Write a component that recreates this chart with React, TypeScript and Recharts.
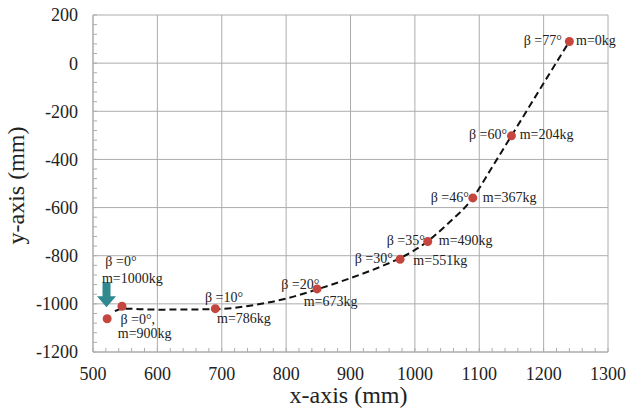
import React from "react"
import {
  CartesianGrid,
  ComposedChart,
  Label,
  Line,
  Scatter,
  XAxis,
  YAxis,
} from "recharts"

// axis ticks
const xMajor = [500, 600, 700, 800, 900, 1000, 1100, 1200, 1300]
const yMajor = [-1200, -1000, -800, -600, -400, -200, 0, 200]
const xMinor = [
  500, 520, 540, 560, 580, 600, 620, 640, 660, 680, 700, 720, 740, 760, 780,
  800, 820, 840, 860, 880, 900, 920, 940, 960, 980, 1000, 1020, 1040, 1060,
  1080, 1100, 1120, 1140, 1160, 1180, 1200, 1220, 1240, 1260, 1280, 1300,
]
const yMinor = [
  -1200, -1160, -1120, -1080, -1040, -1000, -960, -920, -880, -840, -800,
  -760, -720, -680, -640, -600, -560, -520, -480, -440, -400, -360, -320,
  -280, -240, -200, -160, -120, -80, -40, 0, 40, 80, 120, 160, 200,
]

// measured points
const pointX = [1240, 1150, 1090, 1020, 977, 848, 690, 545, 522]
const pointY = [90, -302, -560, -741, -815, -938, -1020, -1010, -1062]
const betaLabels = ["β =77°", "β =60°", "β =46°", "β =35°", "β =30°", "β =20°", "β =10°", "β =0°", "β =0°,"]
const massLabels = ["m=0kg", "m=204kg", "m=367kg", "m=490kg", "m=551kg", "m=673kg", "m=786kg", "m=1000kg", "m=900kg"]

// dashed trend curve
const curveX = [534, 545, 600, 690, 750, 800, 848, 900, 950, 977, 1020, 1050, 1090, 1120, 1150, 1195, 1240]
const curveY = [-1030, -1020, -1024, -1022, -1005, -978, -940, -893, -842, -810, -740, -670, -560, -432, -302, -105, 90]

// start position marker
const arrowX = [521]
const arrowY = [-1014]

// label placement, pixel offsets from each dot
const labelLayout = [
  { bx: -7.6, by: 4, ba: "end", mx: 6.7, my: 4 },
  { bx: -4.4, by: 3.5, ba: "end", mx: 8.3, my: 3.5 },
  { bx: -4, by: 4.4, ba: "end", mx: 10, my: 4.4 },
  { bx: -3, by: 3.5, ba: "end", mx: 11, my: 3.5 },
  { bx: -7.3, by: 3.3, ba: "end", mx: 13.3, my: 6 },
  { bx: 2.3, by: -0.3, ba: "end", mx: -13.3, my: 16.7 },
  { bx: -10.3, by: -6.7, ba: "start", mx: 1.7, my: 14.3 },
  { bx: -16.6, by: -40, ba: "start", mx: -20, my: -23.4 },
  { bx: 13.3, by: 5, ba: "start", mx: 10.6, my: 19.3 },
]

const points = pointX.map((x, i) => ({
  x,
  y: pointY[i],
  beta: betaLabels[i],
  mass: massLabels[i],
  i,
}))
const curve = curveX.map((x, i) => ({ x, y: curveY[i] }))
const arrow = arrowX.map((x, i) => ({ x, y: arrowY[i] }))

const FONT = "Liberation Serif, serif"
const GRID = "#acacac"
const INK = "#222"

function PointShape(props: any) {
  const { cx, cy, payload } = props
  const l = labelLayout[payload.i]
  return (
    <g>
      <circle cx={cx} cy={cy} r={4.5} fill="#c4463f" />
      <text x={cx + l.bx} y={cy + l.by} textAnchor={l.ba} style={{ fontFamily: FONT, fontSize: 14 }} fill={INK}>
        {payload.beta}
      </text>
      <text x={cx + l.mx} y={cy + l.my} textAnchor="start" style={{ fontFamily: FONT, fontSize: 14 }} fill={INK}>
        {payload.mass}
      </text>
    </g>
  )
}

function ArrowShape(props: any) {
  const { cx, cy } = props
  const pts = [
    [cx - 4, cy - 25],
    [cx + 4, cy - 25],
    [cx + 4, cy - 11],
    [cx + 9.5, cy - 11],
    [cx, cy],
    [cx - 9.5, cy - 11],
    [cx - 4, cy - 11],
  ]
    .map((p) => p.join(","))
    .join(" ")
  return <polygon points={pts} fill="#2e8a8f" />
}

const tickStyle = { fontSize: 18, fill: INK, style: { fontFamily: FONT } }

export default function App() {
  return (
    <div style={{ position: "absolute", left: 0, top: 0, width: 628, height: 417, background: "#fff", fontFamily: FONT }}>
      <ComposedChart width={628} height={417} margin={{ top: 15, right: 20, bottom: 0, left: 0 }} style={{ fontFamily: FONT }}>
        <CartesianGrid stroke={GRID} horizontalValues={yMajor} verticalValues={xMajor} />
        <XAxis
          dataKey="x"
          type="number"
          domain={[500, 1300]}
          ticks={xMinor}
          interval={0}
          height={65}
          tickSize={-4}
          tickMargin={19}
          tick={tickStyle}
          tickLine={{ stroke: GRID }}
          axisLine={{ stroke: GRID }}
          tickFormatter={(v: number) => (xMajor.includes(v) ? String(v) : "")}
        >
          <Label
            content={(p: any) => {
              const vb = p.viewBox
              return (
                <text x={vb.x + vb.width / 2 - 2} y={vb.y + 51} textAnchor="middle" style={{ fontFamily: FONT, fontSize: 24 }} fill={INK}>
                  x-axis (mm)
                </text>
              )
            }}
          />
        </XAxis>
        <YAxis
          dataKey="y"
          type="number"
          domain={[-1200, 200]}
          ticks={yMinor}
          interval={0}
          width={93}
          tickSize={-4}
          tickMargin={19}
          tick={tickStyle}
          tickLine={{ stroke: GRID }}
          axisLine={{ stroke: GRID }}
          tickFormatter={(v: number) => (yMajor.includes(v) ? String(v) : "")}
        >
          <Label
            content={(p: any) => {
              const vb = p.viewBox
              const x = vb.x + 24
              const y = vb.y + vb.height / 2 + 2
              return (
                <text x={x} y={y} transform={`rotate(-90 ${x} ${y})`} textAnchor="middle" style={{ fontFamily: FONT, fontSize: 24 }} fill={INK}>
                  y-axis (mm)
                </text>
              )
            }}
          />
        </YAxis>
        <Line
          data={curve}
          dataKey="y"
          type="monotone"
          stroke="#111"
          strokeWidth={2}
          strokeDasharray="7 4"
          dot={false}
          activeDot={false}
          isAnimationActive={false}
        />
        <Scatter data={arrow} dataKey="y" shape={ArrowShape} isAnimationActive={false} />
        <Scatter data={points} dataKey="y" shape={PointShape} isAnimationActive={false} />
      </ComposedChart>
    </div>
  )
}
